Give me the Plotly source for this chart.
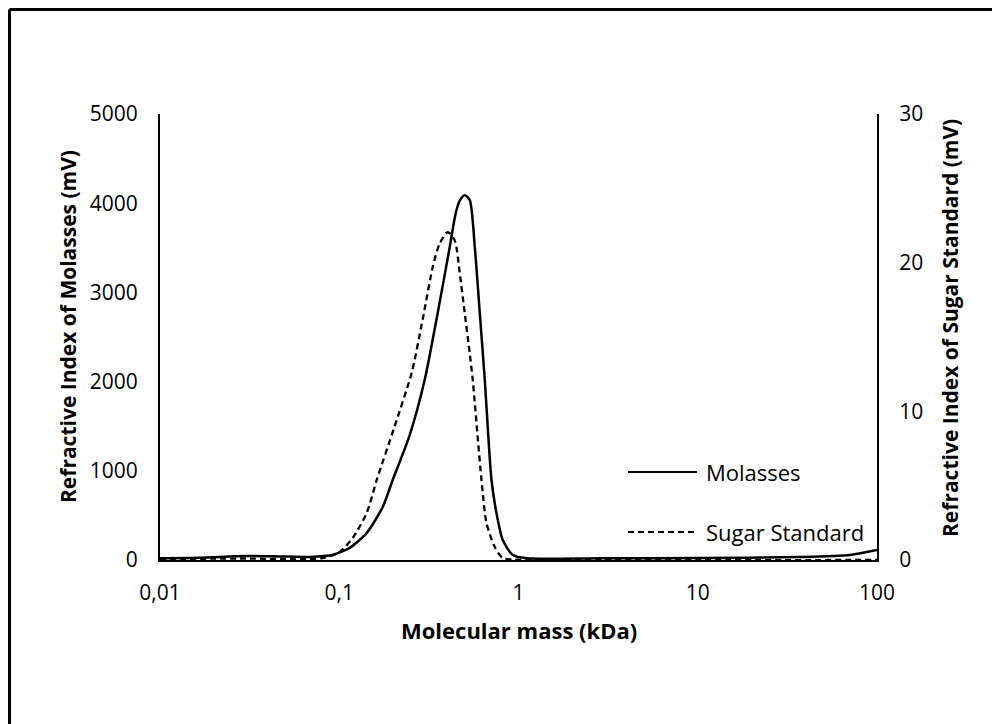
import plotly.graph_objects as go

# Molecular mass (kDa) and refractive-index response (mV)
mass_molasses = [0.010, 0.0166, 0.030, 0.0465, 0.0683, 0.0919, 0.1005, 0.1143, 0.1422,
                 0.1747, 0.1987, 0.2472, 0.2998, 0.3542, 0.4135, 0.4466, 0.4701, 0.5013,
                 0.5346, 0.5702, 0.6081, 0.6485, 0.7067, 0.7535, 0.8172, 0.9294, 1.112,
                 2.84, 10.0, 37.2, 70.8, 100.0]
ri_molasses = [20, 25, 45, 40, 35, 56, 85, 135, 303,
               594, 897, 1400, 2020, 2770, 3510, 3890, 4030, 4090,
               4036, 3510, 2770, 2020, 897, 527, 224, 56, 20,
               20, 22, 33, 56, 112]

mass_sugar = [0.010, 0.030, 0.060, 0.0808, 0.1005, 0.1188, 0.1422, 0.1618, 0.2038,
              0.2536, 0.2922, 0.3322, 0.3636, 0.4029, 0.4407, 0.4701, 0.5013, 0.5346,
              0.5556, 0.6216, 0.6629, 0.7374, 0.8172, 0.9535, 1.5, 100.0]
ri_sugar = [0.05, 0.1, 0.05, 0.13, 0.54, 1.48, 3.16, 5.38, 9.0,
            12.6, 16.2, 19.7, 21.3, 22.06, 21.5, 19.3, 16.6, 13.9,
            12.1, 5.38, 2.49, 0.87, 0.13, 0.02, 0.0, 0.0]

x_tickvals = [0.01, 0.1, 1, 10, 100]
x_ticktext = ["0,01", "0,1", "1", "10", "100"]
left_ticks = [0, 1000, 2000, 3000, 4000, 5000]
right_ticks = [0, 10, 20, 30]

series_names = ["Molasses", "Sugar Standard"]

W, H = 992, 724
ML, MR, MT, MB = 160, 115, 114, 164
PW, PH = W - ML - MR, H - MT - MB


def px_x(px):
    return (px - ML) / PW


def px_y(py):
    return (H - MB - py) / PH


FONT = "Open Sans"
DASH = "6px,4px"

fig = go.Figure()
fig.add_trace(go.Scatter(
    x=mass_molasses, y=ri_molasses, mode="lines", name=series_names[0],
    line=dict(color="black", width=2.5, shape="spline", smoothing=0.7),
    yaxis="y", showlegend=False))
fig.add_trace(go.Scatter(
    x=mass_sugar, y=ri_sugar, mode="lines", name=series_names[1],
    line=dict(color="black", width=2.3, dash=DASH, shape="spline", smoothing=0.7),
    yaxis="y2", showlegend=False))

axis_common = dict(showgrid=False, zeroline=False, showline=True, linecolor="black",
                   linewidth=2, ticks="", tickfont=dict(family=FONT, size=21, color="black"))

fig.update_layout(
    width=W, height=H,
    margin=dict(l=ML, r=MR, t=MT, b=MB),
    paper_bgcolor="white", plot_bgcolor="white",
    font=dict(family=FONT, color="black"),
    xaxis=dict(type="log", range=[-2, 2], tickvals=x_tickvals, ticktext=x_ticktext,
               ticklabelstandoff=13, **axis_common),
    yaxis=dict(range=[0, 5000], tickvals=left_ticks, ticklabelstandoff=16, **axis_common),
    yaxis2=dict(range=[0, 30], tickvals=right_ticks, overlaying="y", side="right",
                ticklabelstandoff=16, **axis_common),
)

x_title_font = dict(family=FONT, size=22, color="black", weight="bold")
y_title_font = dict(family=FONT, size=21, color="black", weight="bold")
annotations = [
    dict(text="Molecular mass (kDa)", x=px_x(519), y=px_y(630), xref="paper", yref="paper",
         xanchor="center", yanchor="middle", showarrow=False, font=x_title_font),
    dict(text="Refractive Index of Molasses (mV)", x=px_x(68), y=px_y(327), xref="paper",
         yref="paper", xanchor="center", yanchor="middle", textangle=-90, showarrow=False,
         font=y_title_font),
    dict(text="Refractive Index of Sugar Standard (mV)", x=px_x(950), y=px_y(328),
         xref="paper", yref="paper", xanchor="center", yanchor="middle", textangle=-90,
         showarrow=False, font=y_title_font),
]

# Legend drawn as sample lines with labels inside the plot area
legend_font = dict(family=FONT, size=22, color="black")
shapes = []
for name, ly, dash in [(series_names[0], 472, None), (series_names[1], 532, DASH)]:
    line = dict(color="black", width=2)
    if dash:
        line["dash"] = dash
    shapes.append(dict(type="line", xref="paper", yref="paper", x0=px_x(628), x1=px_x(697),
                       y0=px_y(ly), y1=px_y(ly), line=line))
    annotations.append(dict(text=name, x=px_x(704), y=px_y(ly), xref="paper", yref="paper",
                            xanchor="left", yanchor="middle", showarrow=False, font=legend_font))

# Frame lines along the top and left edges of the figure
shapes.append(dict(type="line", xref="paper", yref="paper", x0=px_x(9.5), x1=px_x(W + 5),
                   y0=px_y(9.5), y1=px_y(9.5), line=dict(color="black", width=3)))
shapes.append(dict(type="line", xref="paper", yref="paper", x0=px_x(9.5), x1=px_x(9.5),
                   y0=px_y(9.5), y1=px_y(H + 5), line=dict(color="black", width=3)))

fig.update_layout(annotations=annotations, shapes=shapes)
fig.write_html("out.html")
